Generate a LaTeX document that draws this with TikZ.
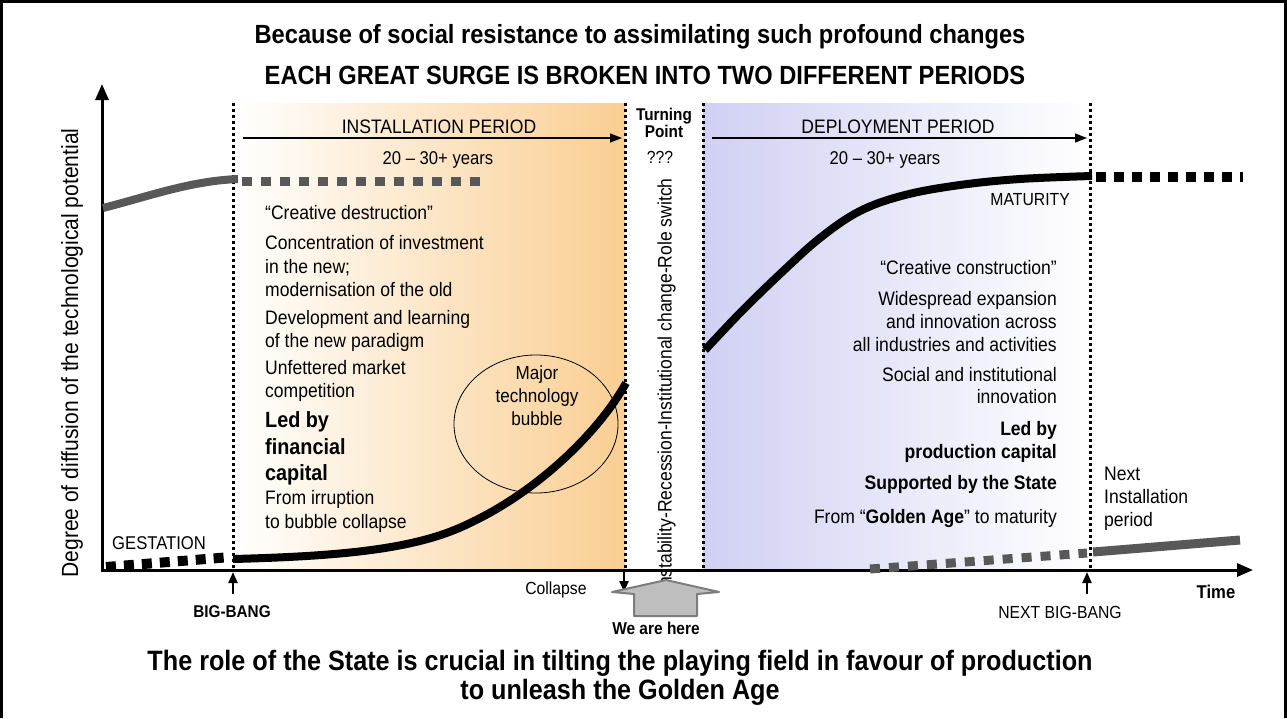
\documentclass[tikz,border=0pt]{standalone}
\usepackage{fontspec}
\setmainfont{Liberation Sans}[FakeStretch=0.9]
\usetikzlibrary{arrows.meta,shapes.geometric}

\definecolor{instorange}{RGB}{250,206,146}
\definecolor{deplblue}{RGB}{208,208,243}
\definecolor{curvegray}{RGB}{88,88,88}
\definecolor{herefill}{RGB}{190,190,190}
\definecolor{hereedge}{RGB}{125,125,125}

\begin{document}
\begin{tikzpicture}[x=1pt,y=-1pt,
  txt/.style={inner sep=0pt, text height=13pt, text depth=0pt, font=\fontsize{19.5}{23}\selectfont},
  boldtxt/.style={txt, font=\fontsize{19.5}{23}\selectfont\bfseries},
  bigtxt/.style={inner sep=0pt, text height=15pt, text depth=0pt, font=\fontsize{22}{26}\selectfont\bfseries},
  small/.style={inner sep=0pt, text height=12pt, text depth=0pt, font=\fontsize{17.5}{20}\selectfont},
  headline/.style={inner sep=0pt, font=\fontsize{26.3}{30}\selectfont\bfseries},
  divider/.style={line width=3pt, dash pattern=on 3pt off 3pt},
  axis/.style={line width=3pt, -{Triangle[length=16pt,width=13pt]}},
  period/.style={line width=1.5pt, -{Triangle[length=12pt,width=9pt]}},
  pointer/.style={line width=2pt, -{Triangle[length=11pt,width=9pt]}},
  blackdash/.style={line width=10pt, dash pattern=on 10pt off 8pt},
  graydash/.style={line width=9pt, curvegray, dash pattern=on 10pt off 9pt}]

% frame and page size
\useasboundingbox (0,0) rectangle (1287,718);
\draw[line width=3pt] (1.5,718) -- (1.5,1.5) -- (1285.5,1.5) -- (1285.5,718);

% headline
\node[headline] (head1) at (640,37) {Because of social resistance to assimilating such profound changes};
\node[headline] (head2) at (645,75) {EACH GREAT SURGE IS BROKEN INTO TWO DIFFERENT PERIODS};

% the two periods
\shade[left color=white, right color=instorange] (233,103) rectangle (625,570);
\shade[left color=deplblue, right color=white] (703,103) rectangle (1092,570);
\foreach \x in {233,625,703,1090}
  \draw[divider] (\x,103) -- (\x,570);

% turning point
\node[rotate=90, anchor=west, txt] (switch) at (665,592) {Instability-Recession-Institutional change-Role switch};
\node[font=\fontsize{17}{19}\selectfont\bfseries, align=center, inner sep=0pt] (turning) at (664,123) {Turning\\[-2pt]Point};
\node[small] (qqq) at (660,157) {???};

% axes
\coordinate (O) at (102,570);
\coordinate (ytop) at (102,84);
\coordinate (xend) at (1253,570);
\draw[axis] (O) -- (ytop);
\draw[axis] (100.5,570) -- (xend);
\node[rotate=90, inner sep=0pt, font=\fontsize{23.4}{26}\selectfont] (ylab) at (72,353) {Degree of diffusion of the technological potential};
\node[font=\fontsize{18.5}{22}\selectfont\bfseries, inner sep=0pt] (time) at (1216,592) {Time};

% period headers
\coordinate (inst0) at (243,138);
\coordinate (inst1) at (622,138);
\draw[period] (inst0) -- (inst1);
\node[txt] (instlab) at (439,127) {INSTALLATION PERIOD};
\node[small, font=\fontsize{18.5}{21}\selectfont] (instyrs) at (438,158) {20 -- 30+ years};
\coordinate (depl0) at (712,138);
\coordinate (depl1) at (1087,138);
\draw[period] (depl0) -- (depl1);
\node[txt] (depllab) at (898,127) {DEPLOYMENT PERIOD};
\node[small, font=\fontsize{18.5}{21}\selectfont] (deplyrs) at (885,158) {20 -- 30+ years};

% previous surge fading out
\draw[line width=8pt, curvegray] (103,208) .. controls (150,196) and (190,181) .. (238,179);
\draw[graydash] (242,181) -- (480,181);

% gestation and installation curve
\draw[blackdash] (106,567) -- (231,557);
\node[small, font=\fontsize{18.5}{21}\selectfont, anchor=west] (gestation) at (112,543) {GESTATION};
\draw[line width=8pt] (233,559) .. controls (350,556) and (420,548) .. (470,523)
  .. controls (540,490) and (600,430) .. (626,383);
\node[draw, ellipse, line width=0.8pt, minimum width=164pt, minimum height=138pt] (bubble) at (536,424) {};
\node[txt, align=center, font=\fontsize{19}{23}\selectfont] (bubbletxt) at (537,419) {Major\\technology\\bubble};

% deployment curve
\draw[line width=8pt] plot[smooth, tension=0.6] coordinates
  {(705,350) (740,313) (780,274) (820,238) (860,211) (905,195) (960,185) (1020,179) (1092,176)};
\draw[blackdash] (1096,177) -- (1243,177);
\node[small, anchor=east] (maturity) at (1070,199) {MATURITY};

% next surge
\draw[graydash] (870,569) -- (1087,553);
\draw[line width=9pt, curvegray] (1093,552) -- (1240,540);
\node[txt, anchor=west] (next1) at (1104,474) {Next};
\node[txt, anchor=west] (next2) at (1104,497) {Installation};
\node[txt, anchor=west] (next3) at (1104,520) {period};

% installation features
\foreach \y/\t [count=\i] in {213/{``Creative destruction''}, 243/{Concentration of investment},
    267/{in the new;}, 290/{modernisation of the old}, 318/{Development and learning},
    341/{of the new paradigm}, 368/{Unfettered market}, 391/{competition},
    498/{From irruption}, 522/{to bubble collapse}}
  \node[txt, anchor=west] (inst\i) at (265,\y) {\t};
\node[bigtxt, anchor=west] (led1) at (265,420) {Led by};
\node[bigtxt, anchor=west] (led2) at (265,447) {financial};
\node[bigtxt, anchor=west] (led3) at (265,473) {capital};

% deployment features
\foreach \y/\t [count=\i] in {268/{``Creative construction''}, 299/{Widespread expansion},
    322/{and innovation across}, 345/{all industries and activities},
    375/{Social and institutional}, 397/{innovation}}
  \node[txt, anchor=east] (depl\i) at (1057,\y) {\t};
\node[boldtxt, anchor=east] (prod1) at (1057,429) {Led by};
\node[boldtxt, anchor=east] (prod2) at (1057,452) {production capital};
\node[boldtxt, anchor=east] (state) at (1057,483) {Supported by the State};
\node[txt, anchor=east] (golden) at (1057,517) {From ``\textbf{Golden Age}'' to maturity};

% events on the time axis
\node[font=\fontsize{17}{20}\selectfont\bfseries, inner sep=0pt] (bigbang) at (232,612) {BIG-BANG};
\coordinate (bigbangtip) at (233,572);
\draw[pointer] (233,594) -- (bigbangtip);
\node[small] (collapse) at (556,588) {Collapse};
\coordinate (collapsetip) at (624,592);
\draw[pointer] (624,572) -- (collapsetip);
\node[small] (nextbang) at (1060,612) {NEXT BIG-BANG};
\coordinate (nextbangtip) at (1087,572);
\draw[pointer] (1087,594) -- (nextbangtip);

% we are here
\draw[line width=2pt, hereedge, fill=herefill, line join=round]
  (634,616) -- (634,594) -- (612,592) -- (666,580) -- (719,592) -- (697,594) -- (697,616) -- cycle;
\node[font=\fontsize{17.2}{20}\selectfont\bfseries, inner sep=0pt] (here) at (656,628) {We are here};

% closing statement
\node[font=\fontsize{28}{29}\selectfont\bfseries, align=center, inner sep=0pt] (role) at (620,678)
  {The role of the State is crucial in tilting the playing field in favour of production\\to unleash the Golden Age};
\end{tikzpicture}
\end{document}
